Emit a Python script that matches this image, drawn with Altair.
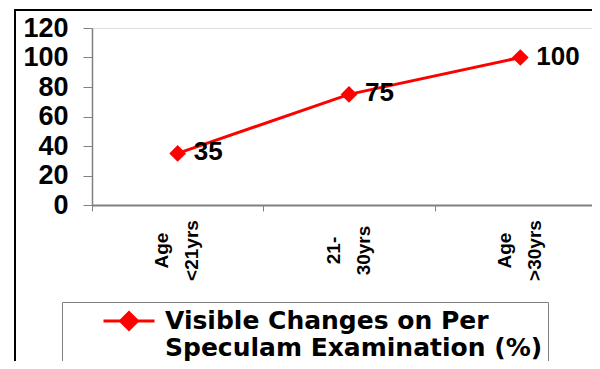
import altair as alt
import pandas as pd

CATEGORIES = ["Age <21yrs", "21- 30yrs", "Age >30yrs"]
VALUES = [35, 75, 100]
SERIES_LINES = ["Visible Changes on Per", "Speculam Examination (%)"]
Y_TICKS = [0, 20, 40, 60, 80, 100, 120]

series = "\n".join(SERIES_LINES)
df = pd.DataFrame({"cat": CATEGORIES, "val": VALUES, "series": [series] * len(VALUES)})

FONT = "Liberation Sans"
LEGEND_FONT = "DejaVu Sans"
RED = "#FF0000"
GRAY = "#808080"
NBSP = "\u00a0" * 3

x = alt.X(
    "cat:N", sort=CATEGORIES,
    scale=alt.Scale(type="band", range=[0, 514], paddingInner=0, paddingOuter=0),
    axis=alt.Axis(title=None, tickBand="extent", labelAngle=270, labelAlign="center",
                  labelBaseline="middle", labelPadding=39, labelLineHeight=30, labelOffset=-16,
                  labelExpr="split(datum.label, ' ')", labelFont=FONT, labelFontSize=19,
                  labelFontWeight="bold", labelColor="black", tickSize=6, tickColor=GRAY,
                  domainColor=GRAY, domainWidth=2, labelOverlap=False, grid=False),
)
y = alt.Y(
    "val:Q", scale=alt.Scale(domain=[0, 120], nice=False),
    axis=alt.Axis(title=None, values=Y_TICKS, tickSize=9, tickColor=GRAY, domainColor=GRAY,
                  domainWidth=1.5, labelFont=FONT, labelFontSize=27, labelFontWeight="bold",
                  labelColor="black", labelPadding=15, grid=False),
)

legend = alt.Legend(
    title=None, orient="none", legendX=-30, legendY=274, fillColor="white",
    strokeColor=GRAY, padding=5,
    symbolType="M-2.04,0L2.04,0M-0.68,0L0,-0.68L0.68,0L0,0.68Z",
    symbolSize=625, symbolFillColor=RED, symbolStrokeColor=RED, symbolStrokeWidth=3,
    symbolOffset=48, labelOffset=22, labelFont=LEGEND_FONT, labelFontSize=25,
    labelFontWeight="bold", labelColor="black", labelLimit=1000,
    labelExpr="[split(datum.label, '\\n')[0], split(datum.label, '\\n')[1] + '" + NBSP + "']",
)
color = alt.Color("series:N", scale=alt.Scale(range=[RED]), legend=legend)

base = alt.Chart(df).encode(x=x, y=y)
line = base.mark_line(strokeWidth=3).encode(color=color)
points = base.mark_point(shape="diamond", filled=True, size=280, opacity=1).encode(color=color)
labels = base.mark_text(align="left", baseline="middle", dx=16, dy=-1, font=FONT,
                        fontSize=26, fontWeight="bold", color="black").encode(text="val:Q")

frame = alt.Chart(pd.DataFrame({"a": [0]})).mark_rect(
    fillOpacity=0, stroke="black", strokeWidth=2
).encode(x=alt.value(-77), x2=alt.value(800), y=alt.value(-18), y2=alt.value(800))

chart = alt.layer(frame, line, points, labels).properties(
    width=500, height=177,
    autosize=alt.AutoSizeParams(type="none"),
    padding={"left": 84, "top": 20, "right": 0, "bottom": 156},
).configure_view(stroke=None).configure(style={"guide-label": {"lineHeight": 27}})

chart.save("out.html", embed_options={"renderer": "svg", "actions": False})
